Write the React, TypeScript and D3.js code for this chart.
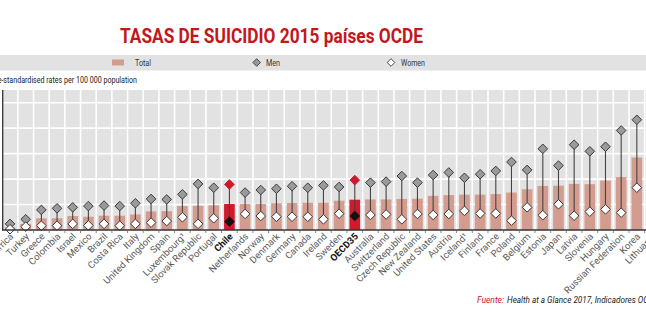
import React from "react";
import * as d3 from "d3";

const countries = ["South Africa","Turkey","Greece","Colombia","Israel","Mexico","Brazil","Costa Rica","Italy","United Kingdom","Spain","Luxembourg¹","Slovak Republic","Portugal","Chile","Netherlands","Norway","Denmark","Germany","Canada","Ireland","Sweden","OECD35","Australia","Switzerland","Czech Republic","New Zealand","United States","Austria","Iceland¹","Finland","France","Poland","Belgium","Estonia","Japan","Latvia","Slovenia","Hungary","Russian Federation","Korea","Lithuania"];
const totalRates = [1.0,2.4,4.6,4.6,5.5,5.2,5.6,5.6,6.1,7.3,7.4,9.4,9.5,9.7,10.2,10.2,10.2,10.5,10.6,10.7,10.7,11.5,11.9,12.0,12.0,12.2,12.3,13.4,13.7,13.9,13.9,14.1,14.7,16.0,17.3,17.4,18.1,18.0,19.4,20.8,28.5,30.0];
const menRates = [2.4,4.2,7.9,8.5,8.9,9.4,9.6,9.4,10.5,12.2,12.0,14.0,18.1,16.6,17.9,14.7,15.7,16.2,17.2,16.6,17.5,16.9,19.6,18.6,19.0,21.2,18.6,21.6,22.6,20.5,21.9,23.2,26.7,23.6,31.9,25.3,33.5,30.9,32.7,39.1,43.3,52.0];
const womenRates = [0.3,1.3,1.7,1.7,2.4,1.8,2.4,1.7,2.4,2.9,3.5,5.0,2.4,4.6,3.3,6.3,5.5,5.2,5.2,5.2,4.2,6.4,5.5,5.9,6.1,4.2,6.3,5.9,6.3,7.5,6.5,6.5,3.7,8.9,5.8,10.1,5.6,7.2,8.1,6.8,16.6,10.0];
const highlighted = ["Chile","OECD35"];
const yTicks = [0,10,20,30,40,50];

const W = 646, H = 323;
const plotTop = 90, plotBottom = 230;
const GREY_BG = "#e2e2e2";
const BAR = "#d49c8e";
const RED = "#d0192b";
const STROKE = "#3a3a3a";

function diamond(cx: number, cy: number, r: number) {
  return `M${cx},${cy - r}L${cx + r},${cy}L${cx},${cy + r}L${cx - r},${cy}Z`;
}

export default function App() {
  const step = 15.67;
  const x = d3.scaleBand<string>().domain(countries).range([2.2, 2.2 + step * countries.length]).paddingInner(0).paddingOuter(0);
  const y = d3.scaleLinear().domain([0, 55]).range([plotBottom, plotBottom - 55 * 2.546]);
  const bw = x.bandwidth();
  const barW = bw * 0.68;

  return (
    <svg width={W} height={H} style={{ position: "absolute", left: 0, top: 0, background: "#fff" }} fontFamily="Roboto, sans-serif">
      {/* Title */}
      <text x={120} y={43} fontSize={21} fontWeight={700} fill="#c4161c" textLength={303} lengthAdjust="spacingAndGlyphs">TASAS DE SUICIDIO 2015 países OCDE</text>
      {/* Legend band */}
      <rect x={0} y={55} width={W} height={15.5} fill="#e2e2e2" />
      <rect x={112} y={59.5} width={12} height={6} fill={BAR} />
      <text x={135} y={66} fontSize={9} fill="#333" textLength={16} lengthAdjust="spacingAndGlyphs">Total</text>
      <path d={diamond(256.7, 62.5, 3.8)} fill="#9a9a9a" stroke={STROKE} strokeWidth={0.9} />
      <text x={266} y={66} fontSize={9} fill="#333" textLength={14} lengthAdjust="spacingAndGlyphs">Men</text>
      <path d={diamond(391, 62.5, 3.8)} fill="#fff" stroke={STROKE} strokeWidth={0.9} />
      <text x={401} y={66} fontSize={9} fill="#333" textLength={24} lengthAdjust="spacingAndGlyphs">Women</text>
      {/* Subtitle */}
      <text x={-11} y={83} fontSize={9.5} fill="#222" textLength={148} lengthAdjust="spacingAndGlyphs">Age-standardised rates per 100 000 population</text>

      {/* Columns background */}
      {countries.map((c) => (
        <rect key={"bg" + c} x={x(c)!} y={plotTop} width={bw} height={plotBottom - plotTop} fill={GREY_BG} />
      ))}
      {/* horizontal gridlines */}
      {yTicks.filter((t) => t > 0).map((t) => (
        <line key={"h" + t} x1={2} x2={W} y1={y(t)} y2={y(t)} stroke="#fff" strokeWidth={1.6} />
      ))}
      {/* vertical separators */}
      {countries.slice(1).map((c) => (
        <line key={"v" + c} x1={x(c)!} x2={x(c)!} y1={plotTop} y2={plotBottom} stroke="#fff" strokeWidth={1.6} />
      ))}
      {/* y tick labels (cut off at the left edge as in the reference) */}
      {yTicks.map((t) => (
        <text key={"yt" + t} x={-1} y={y(t) + 3} fontSize={8} fill="#444" textAnchor="end">{t}</text>
      ))}

      {/* Bars */}
      {countries.map((c, i) => (
        <rect key={"b" + c} x={x(c)! + (bw - barW) / 2} y={y(totalRates[i])} width={barW} height={plotBottom - y(totalRates[i])}
          fill={highlighted.includes(c) ? RED : BAR} />
      ))}
      {/* Lines between men and women */}
      {countries.map((c, i) => {
        const cx = x(c)! + bw / 2;
        return <line key={"l" + c} x1={cx} x2={cx} y1={y(menRates[i])} y2={y(womenRates[i])} stroke="#444" strokeWidth={1.1} />;
      })}
      {/* Men markers */}
      {countries.map((c, i) => {
        const cx = x(c)! + bw / 2;
        const hl = highlighted.includes(c);
        return <path key={"m" + c} d={diamond(cx, y(menRates[i]), 4.8)} fill={hl ? RED : "#9a9a9a"} stroke={hl ? RED : STROKE} strokeWidth={1} />;
      })}
      {/* Women markers */}
      {countries.map((c, i) => {
        const cx = x(c)! + bw / 2;
        const hl = highlighted.includes(c);
        return <path key={"w" + c} d={diamond(cx, y(womenRates[i]), 4.8)} fill={hl ? "#111" : "#fff"} stroke={hl ? "#111" : STROKE} strokeWidth={1} />;
      })}

      {/* Axis lines */}
      <line x1={2.7} x2={2.7} y1={plotTop} y2={plotBottom} stroke="#333" strokeWidth={1.3} />
      <line x1={2} x2={W} y1={plotBottom} y2={plotBottom} stroke="#333" strokeWidth={1.3} />
      {countries.slice(1).map((c) => (
        <line key={"tk" + c} x1={x(c)!} x2={x(c)!} y1={plotBottom} y2={plotBottom + 3} stroke="#666" strokeWidth={0.8} />
      ))}

      {/* X labels */}
      {countries.map((c) => {
        const cx = x(c)! + bw / 2;
        const hl = highlighted.includes(c);
        return (
          <text key={"xl" + c} transform={`translate(${cx + 4},${plotBottom + 7}) rotate(-45)`} textAnchor="end" fontSize={9.5}
            fill={hl ? "#111" : "#5a5a5a"} fontWeight={hl ? 700 : 400}>{c}</text>
        );
      })}

      {/* Source */}
      <text x={477} y={303} fontSize={9.5} fontStyle="italic" fill="#c4161c" textLength={27} lengthAdjust="spacingAndGlyphs">Fuente:</text>
      <text x={507} y={303} fontSize={9.5} fontStyle="italic" fill="#222" textLength={151} lengthAdjust="spacingAndGlyphs">Health at a Glance 2017, Indicadores OCDE</text>
    </svg>
  );
}
